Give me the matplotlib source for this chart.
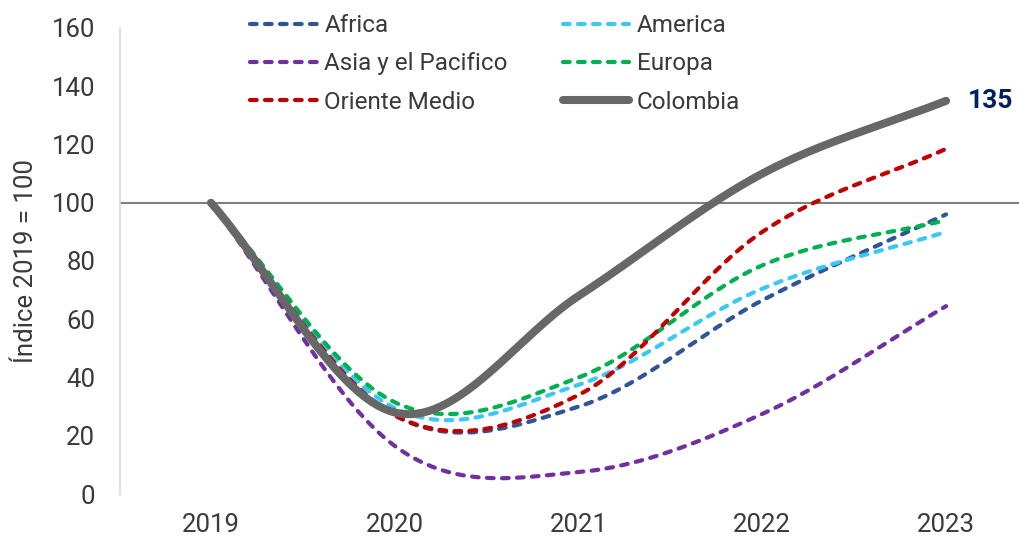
import numpy as np
import matplotlib
matplotlib.use("Agg")
import matplotlib.pyplot as plt

plt.rcParams['font.family'] = ['Roboto', 'DejaVu Sans']

years = ["2019", "2020", "2021", "2022", "2023"]

africa = [100, 27, 30, 66.5, 96]
america = [100, 29.5, 37.5, 70.5, 90]
asia_pacifico = [100, 16.5, 7.5, 27.5, 64.5]
europa = [100, 31.5, 40, 78.5, 94]
oriente_medio = [100, 27, 34, 90, 118.5]
colombia = [100, 28, 68, 110, 135]

TEXT = "#3a3a3a"


def smooth(y, n=60):
    """Smoothed line through yearly points (cubic Hermite, Catmull-Rom tangents)."""
    y = np.asarray(y, dtype=float)
    k = len(y)
    m = np.empty(k)
    m[1:-1] = (y[2:] - y[:-2]) / 2.0
    m[0] = y[1] - y[0]
    m[-1] = y[-1] - y[-2]
    xs, ys = [], []
    for i in range(k - 1):
        t = np.linspace(0, 1, n, endpoint=(i == k - 2))
        h00 = 2 * t**3 - 3 * t**2 + 1
        h10 = t**3 - 2 * t**2 + t
        h01 = -2 * t**3 + 3 * t**2
        h11 = t**3 - t**2
        xs.append(i + t)
        ys.append(h00 * y[i] + h10 * m[i] + h01 * y[i + 1] + h11 * m[i + 1])
    return np.concatenate(xs), np.concatenate(ys)


fig = plt.figure(figsize=(10.19, 5.38), dpi=100)
ax = fig.add_axes([120 / 1019, 1 - 494 / 538, 1 - 120 / 1019, (494 - 28) / 538])

ax.axhline(100, color="#7f7f7f", lw=1.5, zorder=1)

dash = (0, (1.6, 2.0))
series = [
    ("Africa", africa, "#2f5597"),
    ("America", america, "#3cc8f4"),
    ("Asia y el Pacifico", asia_pacifico, "#7030a0"),
    ("Europa", europa, "#00b050"),
    ("Oriente Medio", oriente_medio, "#c00000"),
]
handles = {}
for name, vals, col in series:
    xs, ys = smooth(vals)
    ln, = ax.plot(xs, ys, color=col, lw=3.0, linestyle=dash,
                  dash_capstyle="round", zorder=3, label=name)
    handles[name] = ln

xs, ys = smooth(colombia)
ln, = ax.plot(xs, ys, color="#676767", lw=5.8, solid_capstyle="round",
              zorder=4, label="Colombia")
handles["Colombia"] = ln

ax.annotate(f"{colombia[-1]:.0f}", xy=(len(years) - 1, colombia[-1]),
            xytext=(16, 0), textcoords="offset points", ha="left", va="center",
            fontsize=19, fontweight="bold", color="#002060")

ax.set_xlim(-0.495, 4.397)
ax.set_ylim(0, 160)
ax.set_xticks(range(len(years)))
ax.set_xticklabels(years)
ax.set_yticks(np.arange(0, 161, 20))
ax.tick_params(axis="both", length=0, labelsize=18.5, colors=TEXT)
ax.tick_params(axis="y", pad=18)
ax.tick_params(axis="x", pad=14)
for s in ["top", "right", "bottom"]:
    ax.spines[s].set_visible(False)
ax.spines["left"].set_color("#d9d9d9")
ax.spines["left"].set_linewidth(1.2)

ax.set_ylabel("Índice 2019 = 100", fontsize=18.5, color=TEXT, labelpad=10)

order = ["Africa", "Asia y el Pacifico", "Oriente Medio",
         "America", "Europa", "Colombia"]
leg = ax.legend([handles[o] for o in order], order, ncol=2, frameon=False,
                fontsize=17.5, loc="upper left", bbox_to_anchor=(0.134, 1.05),
                handlelength=2.75, handletextpad=0.3, columnspacing=2.25,
                labelspacing=0.62, borderaxespad=0)
for t in leg.get_texts():
    t.set_color(TEXT)

fig.savefig("out.png", dpi=100)
